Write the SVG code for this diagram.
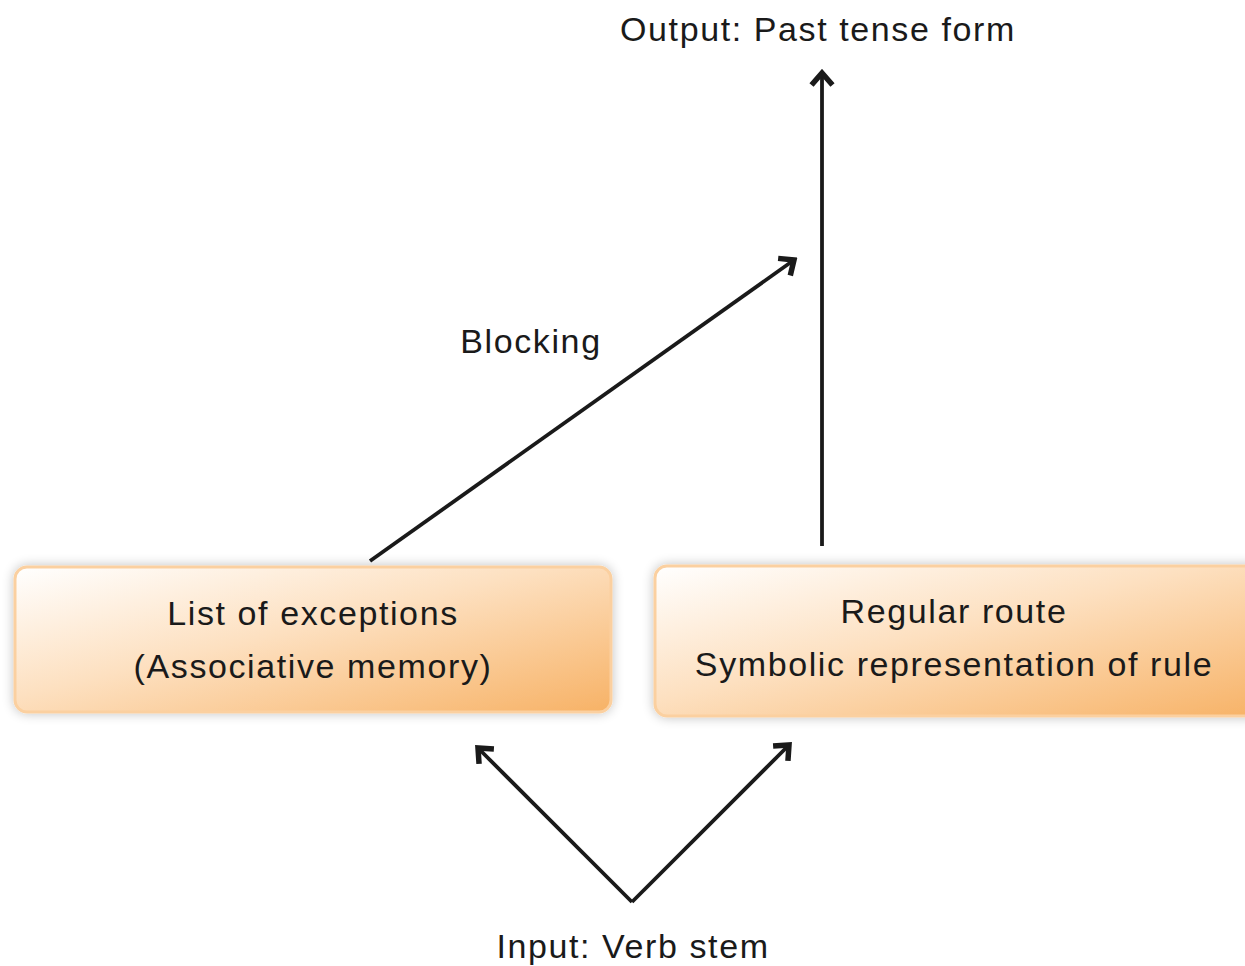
<svg xmlns="http://www.w3.org/2000/svg" width="1245" height="966" viewBox="0 0 1245 966">
<defs>
<style>
text{font-family:"Liberation Sans",Arial,sans-serif;font-size:34px;letter-spacing:1.6px;fill:#1a1a1a;text-anchor:middle}
.box{stroke:#fbd0a0;stroke-width:3;filter:url(#sh)}
.edge{stroke:#1a1a1a;stroke-width:3.8;fill:none;marker-end:url(#ah)}
</style>
<linearGradient id="g" x1="0" y1="0" x2="1" y2="1">
<stop offset="0" stop-color="#ffffff"/>
<stop offset="0.45" stop-color="#fde0c0"/>
<stop offset="1" stop-color="#f7b266"/>
</linearGradient>
<filter id="sh" x="-10%" y="-20%" width="120%" height="140%">
<feGaussianBlur in="SourceAlpha" stdDeviation="6"/>
<feComponentTransfer><feFuncA type="linear" slope="0.25"/></feComponentTransfer>
<feMerge><feMergeNode/><feMergeNode in="SourceGraphic"/></feMerge>
</filter>
<marker id="ah" markerUnits="userSpaceOnUse" viewBox="-16 -14 20 28" markerWidth="20" markerHeight="28" refX="0" refY="0" orient="auto">
<path d="M-12,-10.5 L0,0 L-12,10.5" fill="none" stroke="#1a1a1a" stroke-width="5.5" stroke-linejoin="miter"/>
</marker>
</defs>
<rect width="1245" height="966" fill="#ffffff"/>
<g id="connectors">
<line class="edge" x1="822" y1="546" x2="822" y2="73"/>
<line class="edge" x1="370" y1="561" x2="794" y2="260"/>
<polyline class="edge" points="632,902 478,748"/>
<polyline class="edge" points="632,902 789,745"/>
</g>
<g id="output"><text x="818" y="41">Output: Past tense form</text></g>
<g id="blocking"><text x="531" y="353">Blocking</text></g>
<g id="exceptions">
<rect class="box" x="15" y="567" width="596" height="145" rx="12" fill="url(#g)"/>
<text x="313" y="625">List of exceptions</text>
<text x="313" y="678">(Associative memory)</text>
</g>
<g id="regular">
<rect class="box" x="655" y="566" width="610" height="150" rx="12" fill="url(#g)"/>
<text x="954" y="623">Regular route</text>
<text x="954" y="676">Symbolic representation of rule</text>
</g>
<g id="input"><text x="633" y="958">Input: Verb stem</text></g>
</svg>
